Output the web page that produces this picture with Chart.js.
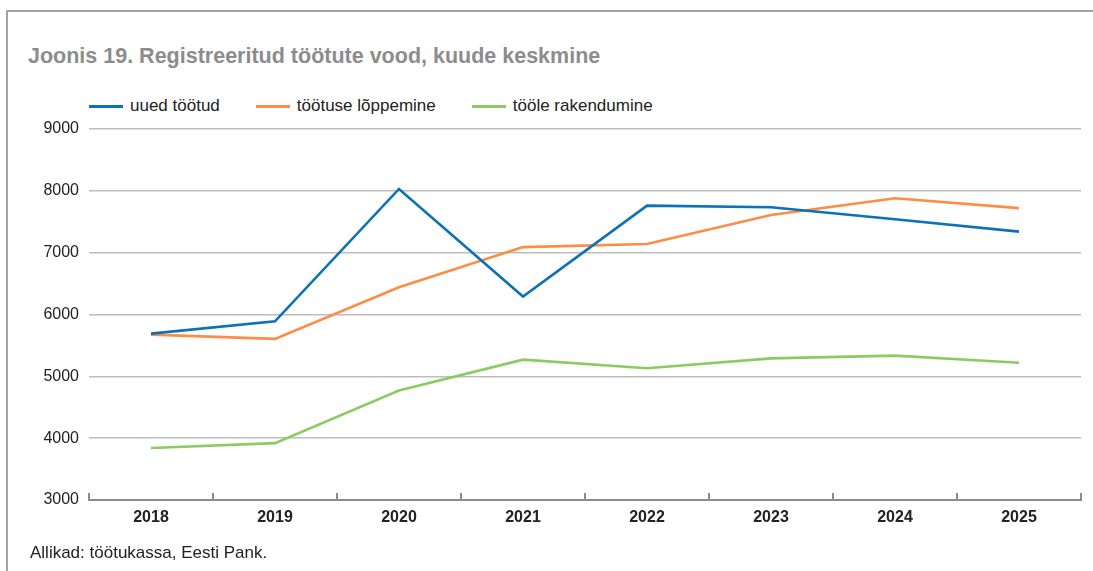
<!DOCTYPE html>
<html>
<head>
<meta charset="utf-8">
<script src="https://cdn.jsdelivr.net/npm/chart.js@4/dist/chart.umd.min.js"></script>
<style>
  html, body { margin: 0; padding: 0; background: #fff; }
  #wrap { position: relative; width: 1093px; height: 571px; overflow: hidden; font-family: "Liberation Sans", Arial, Helvetica, sans-serif; }
  #frame { position: absolute; left: 6px; top: 10px; width: 1100px; height: 600px; border-top: 2px solid #a3a3a3; border-left: 2px solid #a3a3a3; box-sizing: border-box; }
  #title { position: absolute; left: 28px; top: 44px; font-size: 21.5px; font-weight: bold; color: #8c8c8c; white-space: nowrap; }
  #legend { position: absolute; left: 89px; top: 96px; font-size: 17px; color: #222; display: flex; }
  .li { display: flex; align-items: center; margin-right: 36px; }
  .sw { width: 34px; height: 3px; margin-right: 7px; }
  #source { position: absolute; left: 30px; top: 543px; font-size: 17px; color: #222; white-space: nowrap; }
  canvas { position: absolute; left: 0; top: 0; }
</style>
</head>
<body>
<div id="wrap">
  <div id="frame"></div>
  <div id="title">Joonis 19. Registreeritud töötute vood, kuude keskmine</div>
  <div id="legend"></div>
  <canvas id="c" width="1093" height="571"></canvas>
  <div id="source">Allikad: töötukassa, Eesti Pank.</div>
</div>
<script>
const years = ['2018', '2019', '2020', '2021', '2022', '2023', '2024', '2025'];
const uuedTootud = [5690, 5890, 8030, 6290, 7760, 7735, 7540, 7340];
const tootuseLoppemine = [5675, 5605, 6440, 7090, 7140, 7610, 7880, 7720];
const tooleRakendumine = [3840, 3920, 4770, 5270, 5130, 5290, 5335, 5220];
const seriesNames = ['uued töötud', 'töötuse lõppemine', 'tööle rakendumine'];
const seriesColors = ['#0b72b6', '#fd8c45', '#8ccb62'];
const yTicks = [3000, 4000, 5000, 6000, 7000, 8000, 9000];

const seriesData = [uuedTootud, tootuseLoppemine, tooleRakendumine];
const datasets = seriesNames.map((name, i) => ({
  label: name,
  data: seriesData[i],
  borderColor: seriesColors[i],
  backgroundColor: seriesColors[i],
  borderWidth: 2.6,
  pointRadius: 0,
  tension: 0,
  fill: false
}));

// HTML legend
const legendEl = document.getElementById('legend');
datasets.forEach(ds => {
  const item = document.createElement('div');
  item.className = 'li';
  const sw = document.createElement('span');
  sw.className = 'sw';
  sw.style.background = ds.borderColor;
  const t = document.createElement('span');
  t.textContent = ds.label;
  item.appendChild(sw); item.appendChild(t);
  legendEl.appendChild(item);
});

const catTicks = {
  id: 'catTicks',
  afterDraw(chart) {
    const x = chart.scales.x;
    const ctx = chart.ctx;
    const yb = chart.chartArea.bottom;
    ctx.save();
    ctx.strokeStyle = '#8c8c8c';
    ctx.lineWidth = 2;
    for (let i = 0; i <= years.length; i++) {
      const px = Math.round(x.getPixelForValue(i - 0.5));
      ctx.beginPath();
      ctx.moveTo(px, yb);
      ctx.lineTo(px, yb - 7);
      ctx.stroke();
    }
    ctx.restore();
  }
};

new Chart(document.getElementById('c'), {
  type: 'line',
  data: { labels: years, datasets },
  options: {
    responsive: false,
    animation: false,
    layout: { padding: { left: 0, top: 129, right: 12, bottom: 31 } },
    plugins: { legend: { display: false }, tooltip: { enabled: false } },
    scales: {
      x: {
        offset: true,
        grid: { display: false, drawTicks: false },
        border: { display: true, color: '#8c8c8c', width: 2 },
        ticks: {
          padding: 8,
          color: '#222',
          font: { family: '"Liberation Sans", Arial, sans-serif', size: 16, weight: 'bold' }
        },
        afterFit(scale) { scale.height = 40; }
      },
      y: {
        min: 3000,
        max: 9000,
        afterBuildTicks(scale) { scale.ticks = yTicks.map(v => ({ value: v })); },
        grid: {
          drawTicks: false,
          color: ctx => (ctx.tick && ctx.tick.value === 3000) ? 'rgba(0,0,0,0)' : '#bdbdbd',
          lineWidth: 1.6
        },
        border: { display: false },
        ticks: {
          padding: 10,
          color: '#222',
          callback: v => String(v),
          font: { family: '"Liberation Sans", Arial, sans-serif', size: 16 }
        },
        afterFit(scale) { scale.width = 89; }
      }
    }
  },
  plugins: [catTicks]
});
</script>
</body>
</html>
